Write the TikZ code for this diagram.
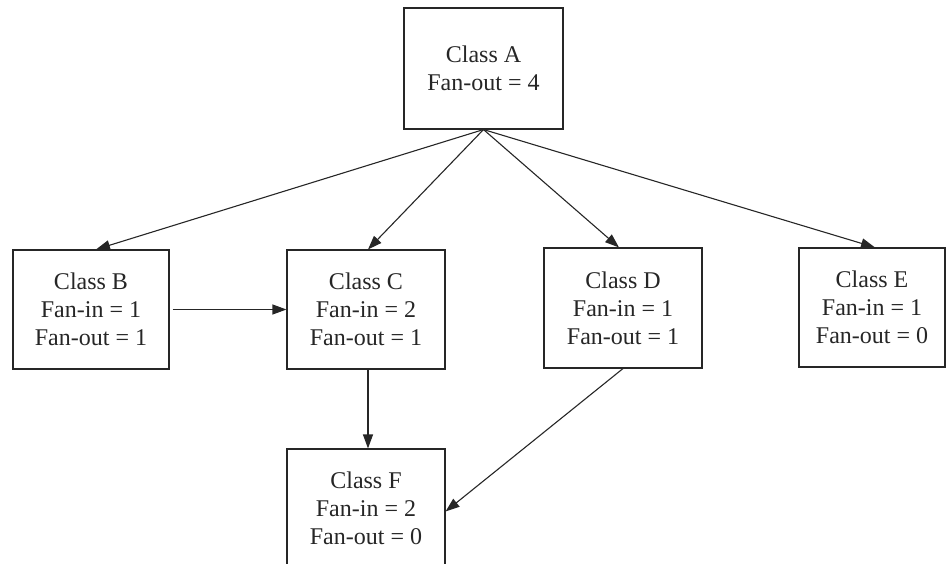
\documentclass[tikz,border=0pt]{standalone}
\usepackage{fontspec}
\setmainfont{Liberation Serif}
\usetikzlibrary{arrows.meta,calc}
\begin{document}
\begin{tikzpicture}[x=1pt,y=-1pt,
  box/.style={draw=black!85,line width=1.1pt,minimum width=158pt,minimum height=119pt,
    align=center,inner sep=0pt,font=\fontsize{24}{28}\selectfont,text=black!85},
  conn/.style={draw=black!85,line width=1.1pt,-{Triangle[length=14pt,width=10pt]}}]
\useasboundingbox (0,0) rectangle (946,564);
\node[box,minimum width=159pt,minimum height=121pt] (A) at (483.5,68.5) {Class A\\Fan-out = 4};
\node[box,minimum width=156pt] (B) at (91,309.5) {Class B\\Fan-in = 1\\Fan-out = 1};
\node[box] (C) at (366,309.5) {Class C\\Fan-in = 2\\Fan-out = 1};
\node[box,minimum height=120pt] (D) at (623,308) {Class D\\Fan-in = 1\\Fan-out = 1};
\node[box,minimum width=146pt] (E) at (872,307.5) {Class E\\Fan-in = 1\\Fan-out = 0};
\node[box] (F) at (366,508.5) {Class F\\Fan-in = 2\\Fan-out = 0};
\draw[conn] (A.south) -- ([xshift=5pt]B.north);
\draw[conn] (A.south) -- ([xshift=2pt]C.north);
\draw[conn] (A.south) -- ([xshift=-4pt]D.north);
\draw[conn] (A.south) -- ([xshift=3pt]E.north);
\draw[conn] ([xshift=3pt]B.east) -- (C.west);
\draw[conn] ([xshift=2pt]C.south) -- ([xshift=2pt]F.north);
\draw[conn] (D.south) -- ([yshift=-3pt]F.east);
\end{tikzpicture}
\end{document}
